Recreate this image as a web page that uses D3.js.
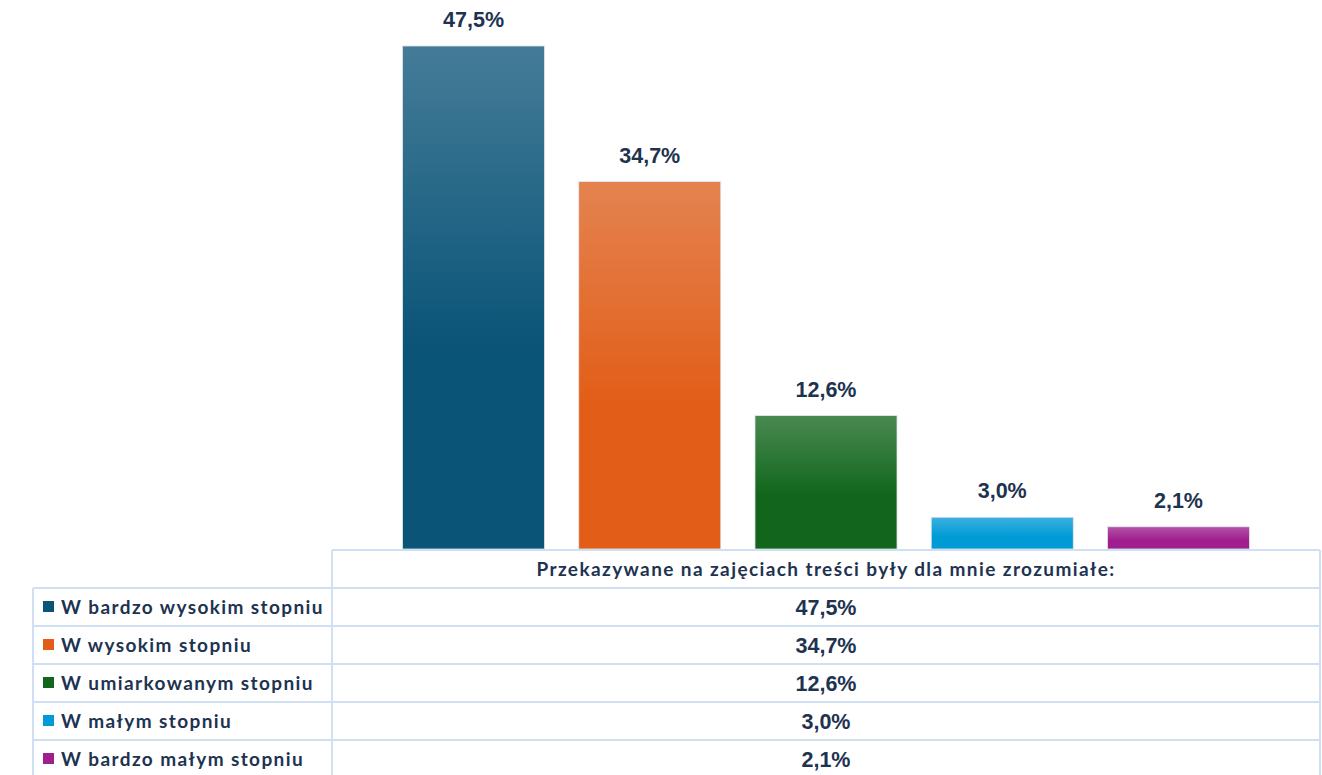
<!DOCTYPE html>
<html>
<head>
<meta charset="utf-8">
<script src="https://cdn.jsdelivr.net/npm/d3@7"></script>
<style>
  html, body { margin: 0; padding: 0; background: #fff; }
  svg { display: block; }
</style>
</head>
<body>
<svg id="chart" width="1322" height="775"></svg>
<script>
const question = 'Przekazywane na zajęciach treści były dla mnie zrozumiałe:'
const categories = [
  'W bardzo wysokim stopniu',
  'W wysokim stopniu',
  'W umiarkowanym stopniu',
  'W małym stopniu',
  'W bardzo małym stopniu'
]
const values = [47.5, 34.7, 12.6, 3.0, 2.1]
const barColors = ['#0a5478', '#e25e18', '#11661b', '#009bd7', '#a01f8e']

const color = {
  text: '#1d3350',
  grid: '#cfe0f3'
}

const plot = { left: 332, right: 1320, top: 19.5, bottom: 549 }
const table = { left: 33, header: 38, row: 38 }
const tableFont = { family: 'Lato, sans-serif', size: 19, spacing: 1.4 }
const valueFont = { family: 'Liberation Sans, Arial, sans-serif', size: 21.5 }

const fmt = (v) => d3.format('.1f')(v).replace('.', ',') + '%'

const svg = d3.select('#chart')

const x = d3
  .scaleBand()
  .domain(categories)
  .range([plot.left, plot.right])
  .paddingInner(0.194)
  .paddingOuter(0.4)

const y = d3.scaleLinear().domain([0, 50]).range([plot.bottom, plot.top])

// gradients, lighter at the top
const defs = svg.append('defs')
barColors.forEach((c, i) => {
  const grad = defs
    .append('linearGradient')
    .attr('id', 'grad' + i)
    .attr('x1', 0)
    .attr('y1', 0)
    .attr('x2', 0)
    .attr('y2', 1)
  grad.append('stop').attr('offset', '0%').attr('stop-color', d3.interpolateRgb(c, '#e8ecf0')(0.26))
  grad.append('stop').attr('offset', '60%').attr('stop-color', c)
  grad.append('stop').attr('offset', '100%').attr('stop-color', c)
})

// bars
svg
  .selectAll('.bar')
  .data(values)
  .enter()
  .append('rect')
  .attr('class', 'bar')
  .attr('x', (d, i) => x(categories[i]))
  .attr('width', x.bandwidth())
  .attr('y', (d) => y(d))
  .attr('height', (d) => y(0) - y(d))
  .attr('fill', (d, i) => 'url(#grad' + i + ')')
  .attr('stroke', '#e4e8ee')
  .attr('stroke-width', 0.8)

// value labels
svg
  .selectAll('.valueLabel')
  .data(values)
  .enter()
  .append('text')
  .attr('class', 'valueLabel')
  .attr('x', (d, i) => x(categories[i]) + x.bandwidth() / 2)
  .attr('y', (d) => y(d) - 19)
  .attr('text-anchor', 'middle')
  .attr('font-family', valueFont.family)
  .attr('font-weight', 700)
  .attr('font-size', valueFont.size)
  .attr('fill', color.text)
  .text(fmt)

// data table
const tableTop = plot.bottom + 1
const rowY = (i) => tableTop + table.header + i * table.row
const tableBottom = rowY(categories.length)
const g = svg.append('g')

// header text
g.append('text')
  .attr('x', (plot.left + plot.right) / 2)
  .attr('y', tableTop + table.header / 2 + 6.5)
  .attr('text-anchor', 'middle')
  .attr('font-family', tableFont.family)
  .attr('font-weight', 700)
  .attr('font-size', tableFont.size)
  .attr('letter-spacing', tableFont.spacing)
  .attr('fill', color.text)
  .text(question)

// rows
const rows = g
  .selectAll('.row')
  .data(categories)
  .enter()
  .append('g')
  .attr('class', 'row')
  .attr('transform', (d, i) => 'translate(0,' + rowY(i) + ')')

rows
  .append('rect')
  .attr('x', table.left + 10)
  .attr('y', table.row / 2 - 6)
  .attr('width', 11)
  .attr('height', 11)
  .attr('fill', (d, i) => barColors[i])

rows
  .append('text')
  .attr('x', table.left + 28)
  .attr('y', table.row / 2 + 6.5)
  .attr('font-family', tableFont.family)
  .attr('font-weight', 700)
  .attr('font-size', tableFont.size)
  .attr('letter-spacing', tableFont.spacing)
  .attr('fill', color.text)
  .text((d) => d)

rows
  .append('text')
  .attr('x', (plot.left + plot.right) / 2)
  .attr('y', table.row / 2 + 7.5)
  .attr('text-anchor', 'middle')
  .attr('font-family', valueFont.family)
  .attr('font-weight', 700)
  .attr('font-size', valueFont.size)
  .attr('fill', color.text)
  .text((d, i) => fmt(values[i]))

// grid lines
const lines = g.append('g').attr('stroke', color.grid).attr('stroke-width', 2).attr('fill', 'none')
lines.append('line').attr('x1', plot.left).attr('x2', plot.right).attr('y1', tableTop).attr('y2', tableTop)
categories.forEach((d, i) => {
  lines
    .append('line')
    .attr('x1', table.left)
    .attr('x2', plot.right)
    .attr('y1', rowY(i))
    .attr('y2', rowY(i))
})
lines.append('line').attr('x1', table.left).attr('x2', plot.right).attr('y1', tableBottom).attr('y2', tableBottom)
lines.append('line').attr('x1', plot.left).attr('x2', plot.left).attr('y1', tableTop).attr('y2', tableBottom)
lines.append('line').attr('x1', plot.right).attr('x2', plot.right).attr('y1', tableTop).attr('y2', tableBottom)
lines.append('line').attr('x1', table.left).attr('x2', table.left).attr('y1', rowY(0)).attr('y2', tableBottom)
</script>
</body>
</html>
